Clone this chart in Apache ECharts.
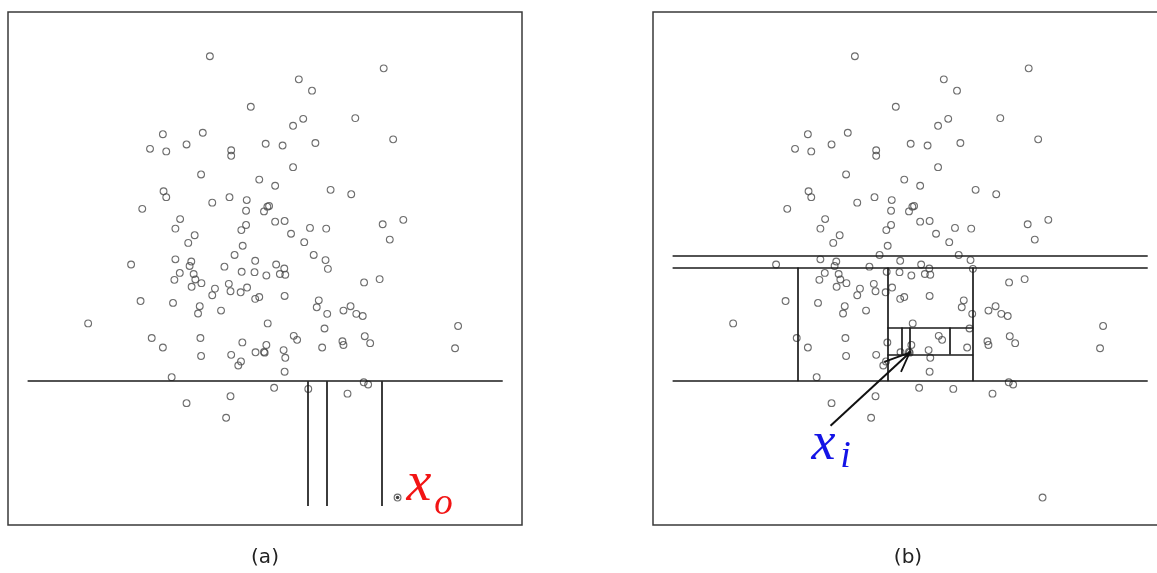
<!DOCTYPE html>
<html>
<head>
<meta charset="utf-8">
<script src="https://cdn.jsdelivr.net/npm/echarts@6/dist/echarts.min.js"></script>
<style>
  html, body { margin: 0; padding: 0; background: #fff; }
  #chart { width: 1157px; height: 573px; }
</style>
</head>
<body>
<div id="chart"></div>
<script>
// Sample observations (x, y); y grows downwards on the plot.
const points = [
  [622,156],[1136,189],[885,219],[924,250],[743,294],[898,327],[868,346],[1052,325],
  [483,369],[601,365],[445,409],[493,416],[553,397],[685,413],[685,428],[787,395],
  [837,400],[934,393],[1164,383],[868,459],[596,479],[768,493],[815,510],[979,521],
  [1040,533],[485,525],[493,541],[422,573],[629,556],[680,541],[731,549],[729,578],
  [782,580],[797,565],[792,567],[534,601],[520,627],[577,645],[558,666],[729,617],
  [715,631],[815,608],[843,606],[918,625],[966,627],[1133,615],[1194,603],[1154,657],
  [862,641],[901,664],[719,674],[695,699],[929,699],[964,713],[971,737],[389,725],
  [520,711],[567,717],[562,729],[533,748],[574,751],[579,766],[517,767],[597,776],
  [568,786],[665,731],[716,745],[756,715],[754,746],[789,755],[818,725],[842,736],
  [829,751],[845,753],[678,778],[683,798],[637,791],[629,809],[713,801],[732,788],
  [756,819],[768,814],[843,811],[1078,774],[1124,765],[417,825],[513,830],[592,839],
  [587,859],[655,851],[944,823],[938,842],[969,860],[1017,851],[1038,839],[1055,860],
  [1074,866],[262,886],[793,886],[961,900],[450,926],[483,952],[594,926],[596,975],
  [718,938],[789,945],[757,965],[782,964],[685,972],[714,990],[706,1001],[840,959],
  [845,980],[870,920],[880,931],[954,952],[1014,935],[1017,945],[1080,921],[1096,940],
  [1356,893],[1347,954],[843,1018],[509,1033],[812,1062],[913,1065],[1029,1078],[1077,1047],
  [1090,1053],[683,1085],[553,1104],[670,1144]
];
// The anomaly isolated in panel (a) and the normal point isolated in panel (b)
const outlierPoint = [1177, 1362];
const normalPoint = [784, 966];

// Random partitions: horizontal cuts [y, xFrom, xTo], vertical cuts [x, yFrom, yTo]
const cutsAHorizontal = [[1044, 83, 1488]];
const cutsAVertical = [[910, 1044, 1385], [968, 1044, 1385], [1131, 1044, 1385]];
const cutsBHorizontal = [[702, 83, 1488], [733, 83, 1488], [1044, 83, 1488], [897, 718, 972], [971, 718, 972]];
const cutsBVertical = [[454, 733, 1044], [718, 733, 1044], [972, 733, 1044], [761, 897, 971], [784, 897, 966], [903, 897, 971]];

// Start of the pointer that marks x_i
const arrowTail = [550, 1166];

const X_RANGE = [25, 1545];
const Y_RANGE = [35, 1437];

// Both panels share one scale: 514 px for the full x range.
const PANEL_W = 514, PANEL_H = 513, TOP = 12;
const LEFT_A = 8, LEFT_B = 653;
const VIEW_W = 1157;
// Panel (b) runs past the right edge of the page, so only its visible part is laid out.
const WIDTH_B = VIEW_W - LEFT_B;
const X_MAX_B = X_RANGE[0] + WIDTH_B * (X_RANGE[1] - X_RANGE[0]) / PANEL_W;

function cutSegments(horizontal, vertical) {
  const segs = [];
  horizontal.forEach(([y, x0, x1]) => segs.push({ coords: [[x0, y], [x1, y]] }));
  vertical.forEach(([x, y0, y1]) => segs.push({ coords: [[x, y0], [x, y1]] }));
  return segs;
}

const circleStyle = { color: 'rgba(0,0,0,0)', borderColor: '#4a4a4a', borderWidth: 1.1 };

function panelSeries(idx, cuts) {
  return [
    {
      type: 'lines', coordinateSystem: 'cartesian2d', xAxisIndex: idx, yAxisIndex: idx,
      silent: true, data: cuts,
      lineStyle: { color: '#1a1a1a', width: 1.7, opacity: 1, curveness: 0 }, z: 3
    },
    {
      type: 'scatter', xAxisIndex: idx, yAxisIndex: idx, silent: true,
      symbol: 'circle', symbolSize: 6.8, itemStyle: circleStyle,
      data: points.concat([normalPoint, outlierPoint]), z: 2
    }
  ];
}

const chart = echarts.init(document.getElementById('chart'), null, { renderer: 'canvas' });

chart.setOption({
  animation: false,
  backgroundColor: '#fff',
  grid: [
    { left: LEFT_A, top: TOP, width: PANEL_W, height: PANEL_H, show: false },
    { left: LEFT_B, top: TOP, width: WIDTH_B, height: PANEL_H, show: false }
  ],
  xAxis: [
    { type: 'value', gridIndex: 0, min: X_RANGE[0], max: X_RANGE[1], show: false },
    { type: 'value', gridIndex: 1, min: X_RANGE[0], max: X_MAX_B, show: false }
  ],
  yAxis: [0, 1].map(i => ({ type: 'value', gridIndex: i, min: Y_RANGE[0], max: Y_RANGE[1], inverse: true, show: false })),
  series: [
    ...panelSeries(0, cutSegments(cutsAHorizontal, cutsAVertical)),
    {
      type: 'scatter', xAxisIndex: 0, yAxisIndex: 0, silent: true,
      symbol: 'circle', symbolSize: 3.5, itemStyle: { color: '#111' },
      data: [outlierPoint], z: 4
    },
    ...panelSeries(1, cutSegments(cutsBHorizontal, cutsBVertical)),
    {
      type: 'scatter', xAxisIndex: 1, yAxisIndex: 1, silent: true,
      symbol: 'circle', symbolSize: 4, itemStyle: { color: '#111' },
      data: [normalPoint], z: 4
    },
    {
      type: 'custom', xAxisIndex: 1, yAxisIndex: 1, silent: true, z: 5,
      encode: { x: [0, 2], y: [1, 3] },
      data: [[arrowTail[0], arrowTail[1], normalPoint[0], normalPoint[1]]],
      renderItem(params, api) {
        const a = api.coord([api.value(0), api.value(1)]);
        const b = api.coord([api.value(2), api.value(3)]);
        const ang = Math.atan2(a[1] - b[1], a[0] - b[0]);
        const barb = (s, len) => [b[0] + len * Math.cos(ang + s), b[1] + len * Math.sin(ang + s)];
        return {
          type: 'group',
          children: [
            { type: 'line', shape: { x1: a[0], y1: a[1], x2: b[0], y2: b[1] }, style: { stroke: '#111', lineWidth: 2 } },
            { type: 'polyline', shape: { points: [barb(0.4, 27), b, barb(-0.4, 21)] }, style: { stroke: '#111', lineWidth: 1.8, fill: null } }
          ]
        };
      }
    }
  ]
});

// Frames, panel captions and the math labels, placed from the data positions
const pO = chart.convertToPixel({ gridIndex: 0 }, outlierPoint);
const pT = chart.convertToPixel({ gridIndex: 1 }, arrowTail);
const serif = "'Liberation Serif', 'DejaVu Serif', serif";
const frameStyle = { stroke: '#3a3a3a', lineWidth: 1.5, fill: null };
chart.setOption({
  graphic: [
    { type: 'rect', silent: true, z: 10, shape: { x: LEFT_A, y: TOP, width: PANEL_W, height: PANEL_H }, style: frameStyle },
    { type: 'rect', silent: true, z: 10, shape: { x: LEFT_B, y: TOP, width: PANEL_W, height: PANEL_H }, style: frameStyle },
    { type: 'text', x: LEFT_A + PANEL_W / 2, y: 558, silent: true,
      style: { text: '(a)', font: "20px 'DejaVu Sans', sans-serif", fill: '#222', align: 'center', verticalAlign: 'middle' } },
    { type: 'text', x: 908, y: 558, silent: true,
      style: { text: '(b)', font: "20px 'DejaVu Sans', sans-serif", fill: '#222', align: 'center', verticalAlign: 'middle' } },
    { type: 'text', x: pO[0] + 9, y: pO[1] - 12, silent: true,
      style: { text: 'x', font: 'italic 56px ' + serif, fill: '#f21414', align: 'left', verticalAlign: 'middle' } },
    { type: 'text', x: pO[0] + 46, y: pO[1] + 7, silent: true,
      style: { text: 'o', font: 'italic 37px ' + serif, fill: '#f21414', align: 'center', verticalAlign: 'middle' } },
    { type: 'text', x: pT[0] - 7, y: pT[1] + 19, silent: true,
      style: { text: 'x', font: 'italic 54px ' + serif, fill: '#1414e6', align: 'center', verticalAlign: 'middle' } },
    { type: 'text', x: pT[0] + 15, y: pT[1] + 31, silent: true,
      style: { text: 'i', font: 'italic 38px ' + serif, fill: '#1414e6', align: 'center', verticalAlign: 'middle' } }
  ]
});
</script>
</body>
</html>
